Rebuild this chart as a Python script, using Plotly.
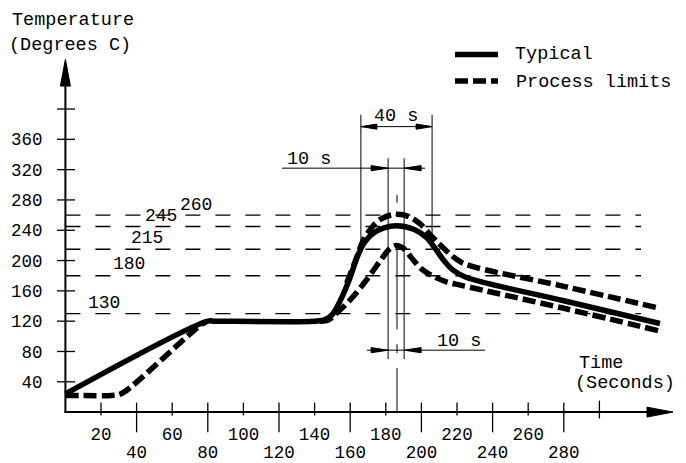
import plotly.graph_objects as go

# ---------------- data ----------------
typical_t = [0, 80, 84, 140, 146, 150, 155, 160, 164, 168, 173, 179, 186, 196, 203, 208, 213, 218, 225, 280, 334]
typical_T = [24, 120, 120, 120, 122, 129, 150, 178, 205, 224, 236, 243, 246, 241, 230, 215, 199, 187, 178, 147, 117]

upper_t = [158, 163, 167, 171, 175, 180, 186, 193, 199, 205, 210, 214, 219, 225, 280, 334]
upper_T = [170, 200, 225, 240, 251, 258, 261, 258, 249, 234, 222, 213, 203, 195, 166, 137]

lower_ramp_t = [0, 26, 30, 34, 76, 79]
lower_ramp_T = [22, 22, 23, 28, 115, 119]
lower_peak_t = [143, 148, 152, 160, 169, 177, 182, 186, 190, 195, 200, 206, 214, 223, 280, 334]
lower_peak_T = [120, 122, 130, 148, 174, 200, 215, 220, 216, 202, 189, 180, 172, 167, 137, 107]

ref_temps = [130, 180, 215, 245, 260]
ref_labels = ["130", "180", "215", "245", "260"]

x_ticks_row1 = [20, 60, 100, 140, 180, 220, 260]
x_ticks_row2 = [40, 80, 120, 160, 200, 240, 280]
x_ticks_unlabeled = [300]
y_ticks = [40, 80, 120, 160, 200, 240, 280, 320, 360]
y_ticks_unlabeled = [400]

window_40 = [166, 206]        # "40 s" window
window_10 = [181.3, 190.3]    # "10 s" window
peak_time = 186.3

# ---------------- pixel <-> data mapping ----------------
W, H = 686, 463
X0, Y0 = 65.4, 416.6
KX, KY = 1.78, 0.766
FONT = "Liberation Mono"


def tx(px):
    return (px - X0) / KX


def ty(py):
    return (Y0 - py) / KY


xr = [tx(0), tx(W)]
yr = [ty(H), ty(0)]

fig = go.Figure()

thick = 5.5
fig.add_trace(go.Scatter(
    x=lower_ramp_t + [None] + lower_peak_t, y=lower_ramp_T + [None] + lower_peak_T,
    mode="lines", line=dict(color="black", width=thick, dash="13px,5px", shape="spline"),
    connectgaps=False, hoverinfo="skip", showlegend=False))
fig.add_trace(go.Scatter(
    x=upper_t, y=upper_T, mode="lines",
    line=dict(color="black", width=thick, dash="13px,5px", shape="spline"),
    hoverinfo="skip", showlegend=False))
fig.add_trace(go.Scatter(
    x=typical_t, y=typical_T, mode="lines",
    line=dict(color="black", width=thick, shape="spline"),
    hoverinfo="skip", showlegend=False))

# crossing tick marks built from the tick arrays
tk_x, tk_y = [], []
for v in x_ticks_row1:
    tk_x += [v, v, None]
    tk_y += [ty(407), ty(420), None]
for v in x_ticks_row2:
    tk_x += [v, v, None]
    tk_y += [ty(407), ty(437), None]
for v in x_ticks_unlabeled:
    tk_x += [v, v, None]
    tk_y += [ty(405), ty(423), None]
for v in y_ticks + y_ticks_unlabeled:
    tk_x += [tx(57), tx(75), None]
    tk_y += [v, v, None]
fig.add_trace(go.Scatter(x=tk_x, y=tk_y, mode="lines", xaxis="x2",
                         line=dict(color="black", width=1.3),
                         hoverinfo="skip", showlegend=False))

shapes = []


def line(x0, y0, x1, y1, width=1.0, dash=None):
    d = dict(type="line", xref="x", yref="y", x0=x0, y0=y0, x1=x1, y1=y1,
             line=dict(color="black", width=width))
    if dash:
        d["line"]["dash"] = dash
    shapes.append(d)


def head(tip_t, tip_T, direction, length, half):
    # filled triangular arrow head, size given in pixels
    if direction in ("left", "right"):
        s = -1 if direction == "right" else 1
        bx = tip_t + s * length / KX
        pts = [(tip_t, tip_T), (bx, tip_T + half / KY), (bx, tip_T - half / KY)]
    else:
        s = -1 if direction == "up" else 1
        by = tip_T + s * length / KY
        pts = [(tip_t, tip_T), (tip_t + half / KX, by), (tip_t - half / KX, by)]
    path = "M {} {} L {} {} L {} {} Z".format(*[c for p in pts for c in p])
    shapes.append(dict(type="path", xref="x", yref="y", path=path,
                       fillcolor="black", line=dict(color="black", width=1)))


# axes with arrows
y_tip = ty(60)
x_tip = tx(673)
line(0, ty(417.5), 0, y_tip - 20 / KY, width=2)
head(0, y_tip, "up", 27, 5)
line(tx(64.5), 0, x_tip - 20 / KX, 0, width=2)
head(x_tip, 0, "right", 26, 5)

# thin dashed reference levels
for v in ref_temps:
    line(0, v, tx(641), v, width=1.4, dash="15px,15px")

# 40 s dimension
line(window_40[0], ty(247), window_40[0], ty(116), width=1)
line(window_40[1], ty(240), window_40[1], ty(116), width=1)
line(window_40[0], ty(128), window_40[1], ty(128), width=1)
head(window_40[0], ty(128), "left", 16, 2.6)
head(window_40[1], ty(128), "right", 16, 2.6)

# 10 s dimension (upper and lower)
for w in window_10:
    line(w, ty(363), w, ty(160), width=1)
line(tx(282), ty(170), tx(425), ty(170), width=1)
head(window_10[0], ty(170), "right", 17, 2.6)
head(window_10[1], ty(170), "left", 17, 2.6)
line(tx(367), ty(354), tx(485), ty(354), width=1)
head(window_10[0], ty(354), "right", 17, 2.6)
head(window_10[1], ty(354), "left", 17, 2.6)

# peak centre line
for a, b in [(197, 205), (247, 333), (348, 357), (372, 416.6)]:
    line(peak_time, ty(b), peak_time, ty(a), width=1)

# legend samples
line(tx(455), ty(55), tx(498), ty(55), width=thick)
line(tx(455), ty(82), tx(498), ty(82), width=thick, dash="13px,5px")

annotations = []


def text(s, px, py, size=18.5, anchor="center"):
    annotations.append(dict(text=s, x=tx(px), y=ty(py), xref="x", yref="y",
                            showarrow=False, xanchor=anchor, yanchor="middle",
                            font=dict(family=FONT, size=size, color="black")))


text("Temperature", 73, 21)
text("(Degrees C)", 69.5, 46)
text("Time", 601, 367)
text("(Seconds)", 625, 388)
text("Typical", 553.5, 55)
text("Process limits", 593.5, 83)
text("40 s", 396, 118)
text("10 s", 308.5, 161)
text("10 s", 459, 345)

label_pos = {"260": (196, 207), "245": (161, 218), "215": (146.5, 241),
             "180": (128.5, 267), "130": (103.5, 306)}
for lab in ref_labels:
    px, py = label_pos[lab]
    text(lab, px, py, size=18)

tickfont = dict(family=FONT, size=17.5, color="black")
xpos = (0 - yr[0]) / (yr[1] - yr[0])
ypos = (0 - xr[0]) / (xr[1] - xr[0])

fig.update_layout(
    width=W, height=H, margin=dict(l=0, r=0, t=0, b=0),
    paper_bgcolor="white", plot_bgcolor="white",
    shapes=shapes, annotations=annotations, showlegend=False,
    xaxis=dict(range=xr, showgrid=False, zeroline=False, showline=False, ticks="",
               tickmode="array", tickvals=x_ticks_row1, ticktext=[str(v) for v in x_ticks_row1],
               tickfont=tickfont, anchor="free", position=xpos, ticklabelstandoff=9,
               fixedrange=True),
    xaxis2=dict(range=xr, overlaying="x", side="bottom", showgrid=False, zeroline=False,
                showline=False, ticks="", tickmode="array", tickvals=x_ticks_row2,
                ticktext=[str(v) for v in x_ticks_row2], tickfont=tickfont,
                anchor="free", position=xpos, ticklabelstandoff=27, fixedrange=True),
    yaxis=dict(range=yr, showgrid=False, zeroline=False, showline=False, ticks="",
               tickmode="array", tickvals=y_ticks, ticktext=[str(v) for v in y_ticks],
               tickfont=tickfont, anchor="free", position=ypos, ticklabelstandoff=23,
               fixedrange=True),
)

fig.write_html("out.html", post_script="document.body.style.margin='0px';",
               config={"displayModeBar": False})
